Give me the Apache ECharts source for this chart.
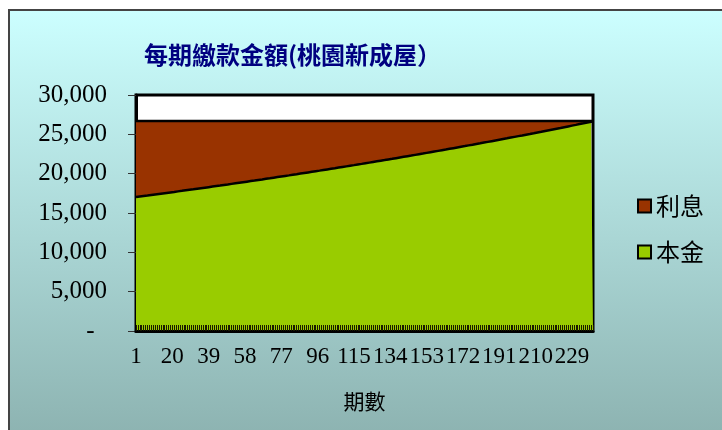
<!DOCTYPE html>
<html>
<head>
<meta charset="utf-8">
<script src="https://cdn.jsdelivr.net/npm/echarts@6/dist/echarts.min.js"></script>
<style>
  html, body { margin: 0; padding: 0; background: #fff; }
  #chart { width: 722px; height: 430px; }
</style>
</head>
<body>
<div id="chart"></div>
<script>
// 本金 (principal) per period, 240 periods
const principal = [
  17031, 17063, 17095, 17127, 17159, 17191, 17223, 17256, 17288, 17321,
  17353, 17386, 17418, 17451, 17484, 17516, 17549, 17582, 17615, 17648,
  17681, 17714, 17748, 17781, 17814, 17848, 17881, 17915, 17948, 17982,
  18015, 18049, 18083, 18117, 18151, 18185, 18219, 18253, 18287, 18322,
  18356, 18391, 18425, 18460, 18494, 18529, 18564, 18598, 18633, 18668,
  18703, 18738, 18773, 18809, 18844, 18879, 18915, 18950, 18986, 19021,
  19057, 19093, 19128, 19164, 19200, 19236, 19272, 19308, 19345, 19381,
  19417, 19454, 19490, 19527, 19563, 19600, 19637, 19674, 19710, 19747,
  19784, 19822, 19859, 19896, 19933, 19971, 20008, 20046, 20083, 20121,
  20159, 20196, 20234, 20272, 20310, 20348, 20386, 20425, 20463, 20501,
  20540, 20578, 20617, 20655, 20694, 20733, 20772, 20811, 20850, 20889,
  20928, 20967, 21007, 21046, 21085, 21125, 21165, 21204, 21244, 21284,
  21324, 21364, 21404, 21444, 21484, 21524, 21565, 21605, 21646, 21686,
  21727, 21768, 21809, 21849, 21890, 21931, 21973, 22014, 22055, 22096,
  22138, 22179, 22221, 22263, 22304, 22346, 22388, 22430, 22472, 22514,
  22556, 22599, 22641, 22684, 22726, 22769, 22811, 22854, 22897, 22940,
  22983, 23026, 23069, 23112, 23156, 23199, 23243, 23286, 23330, 23374,
  23418, 23461, 23505, 23550, 23594, 23638, 23682, 23727, 23771, 23816,
  23860, 23905, 23950, 23995, 24040, 24085, 24130, 24175, 24221, 24266,
  24312, 24357, 24403, 24449, 24494, 24540, 24586, 24632, 24679, 24725,
  24771, 24818, 24864, 24911, 24958, 25004, 25051, 25098, 25145, 25192,
  25240, 25287, 25334, 25382, 25429, 25477, 25525, 25573, 25621, 25669,
  25717, 25765, 25813, 25862, 25910, 25959, 26008, 26056, 26105, 26154,
  26203, 26252, 26302, 26351, 26400, 26450, 26499, 26549, 26599, 26649
];

// 利息 (interest) per period
const interest = [
  9669, 9637, 9605, 9573, 9541, 9509, 9477, 9444, 9412, 9379,
  9347, 9314, 9282, 9249, 9216, 9184, 9151, 9118, 9085, 9052,
  9019, 8986, 8952, 8919, 8886, 8852, 8819, 8785, 8752, 8718,
  8685, 8651, 8617, 8583, 8549, 8515, 8481, 8447, 8413, 8378,
  8344, 8309, 8275, 8240, 8206, 8171, 8136, 8102, 8067, 8032,
  7997, 7962, 7927, 7891, 7856, 7821, 7785, 7750, 7714, 7679,
  7643, 7607, 7572, 7536, 7500, 7464, 7428, 7392, 7355, 7319,
  7283, 7246, 7210, 7173, 7137, 7100, 7063, 7026, 6990, 6953,
  6916, 6878, 6841, 6804, 6767, 6729, 6692, 6654, 6617, 6579,
  6541, 6504, 6466, 6428, 6390, 6352, 6314, 6275, 6237, 6199,
  6160, 6122, 6083, 6045, 6006, 5967, 5928, 5889, 5850, 5811,
  5772, 5733, 5693, 5654, 5615, 5575, 5535, 5496, 5456, 5416,
  5376, 5336, 5296, 5256, 5216, 5176, 5135, 5095, 5054, 5014,
  4973, 4932, 4891, 4851, 4810, 4769, 4727, 4686, 4645, 4604,
  4562, 4521, 4479, 4437, 4396, 4354, 4312, 4270, 4228, 4186,
  4144, 4101, 4059, 4016, 3974, 3931, 3889, 3846, 3803, 3760,
  3717, 3674, 3631, 3588, 3544, 3501, 3457, 3414, 3370, 3326,
  3282, 3239, 3195, 3150, 3106, 3062, 3018, 2973, 2929, 2884,
  2840, 2795, 2750, 2705, 2660, 2615, 2570, 2525, 2479, 2434,
  2388, 2343, 2297, 2251, 2206, 2160, 2114, 2068, 2021, 1975,
  1929, 1882, 1836, 1789, 1742, 1696, 1649, 1602, 1555, 1508,
  1460, 1413, 1366, 1318, 1271, 1223, 1175, 1127, 1079, 1031,
  983, 935, 887, 838, 790, 741, 692, 644, 595, 546,
  497, 448, 398, 349, 300, 250, 201, 151, 101, 51
];

// period numbers 1..240 as category labels
const periods = [];
for (let i = 1; i <= principal.length; i++) periods.push(String(i));

const seriesNames = ["本金", "利息"];
const legendOrder = ["利息", "本金"];

const serif = "'Liberation Serif', 'Times New Roman', serif";
const cjk = "'Noto Sans CJK TC', sans-serif";

let chart = echarts.init(document.getElementById("chart"));

let option = {
  animation: false,
  graphic: [
    {
      type: "rect",
      z: -10,
      shape: { x: 9, y: 10, width: 720, height: 430 },
      style: {
        fill: new echarts.graphic.LinearGradient(0, 0, 0, 1, [
          { offset: 0, color: "#ccffff" },
          { offset: 1, color: "#8cb2b0" }
        ]),
        stroke: "#444",
        lineWidth: 2
      }
    }
  ],
  title: {
    text: "每期繳款金額(桃園新成屋）",
    left: 139,
    top: 38,
    textStyle: {
      fontFamily: cjk,
      fontSize: 24,
      fontWeight: "bold",
      color: "#000080"
    }
  },
  legend: {
    orient: "vertical",
    left: 632,
    top: 189,
    itemGap: 22,
    itemWidth: 13,
    itemHeight: 13,
    icon: "rect",
    data: legendOrder,
    itemStyle: { borderColor: "#000", borderWidth: 2 },
    textStyle: { fontFamily: cjk, fontSize: 24, color: "#000" }
  },
  grid: {
    left: 136,
    top: 95,
    right: 129,
    bottom: 99,
    show: true,
    backgroundColor: "#fff",
    borderColor: "#000",
    borderWidth: 3
  },
  xAxis: {
    type: "category",
    data: periods,
    boundaryGap: false,
    z: 5,
    name: "期數",
    nameLocation: "middle",
    nameGap: 60,
    nameTextStyle: { fontFamily: cjk, fontSize: 21, color: "#000" },
    axisLine: { lineStyle: { color: "#000", width: 3 } },
    axisTick: {
      show: true,
      inside: true,
      length: 6,
      interval: 0,
      lineStyle: { color: "#1a1a00", width: 1 }
    },
    axisLabel: {
      interval: 18,
      margin: 14,
      fontFamily: serif,
      fontSize: 23,
      color: "#000"
    },
    splitLine: { show: false }
  },
  yAxis: {
    type: "value",
    min: 0,
    max: 30000,
    interval: 5000,
    axisLine: { show: true, lineStyle: { color: "#000", width: 3 } },
    axisTick: { show: true, length: 8, lineStyle: { color: "#333", width: 1 } },
    axisLabel: {
      margin: 29,
      fontFamily: serif,
      fontSize: 25,
      color: "#000",
      formatter: function (v) {
        if (v === 0) return "-  ";
        return v.toLocaleString("en-US");
      }
    },
    splitLine: { show: false }
  },
  series: [
    {
      name: seriesNames[0],
      type: "line",
      stack: "total",
      data: principal,
      showSymbol: false,
      lineStyle: { color: "#000", width: 2.5 },
      itemStyle: { color: "#99cc00" },
      areaStyle: { color: "#99cc00", opacity: 1 }
    },
    {
      name: seriesNames[1],
      type: "line",
      stack: "total",
      data: interest,
      showSymbol: false,
      lineStyle: { color: "#000", width: 2.5 },
      itemStyle: { color: "#993300" },
      areaStyle: { color: "#993300", opacity: 1 }
    }
  ]
};

chart.setOption(option);
</script>
</body>
</html>
